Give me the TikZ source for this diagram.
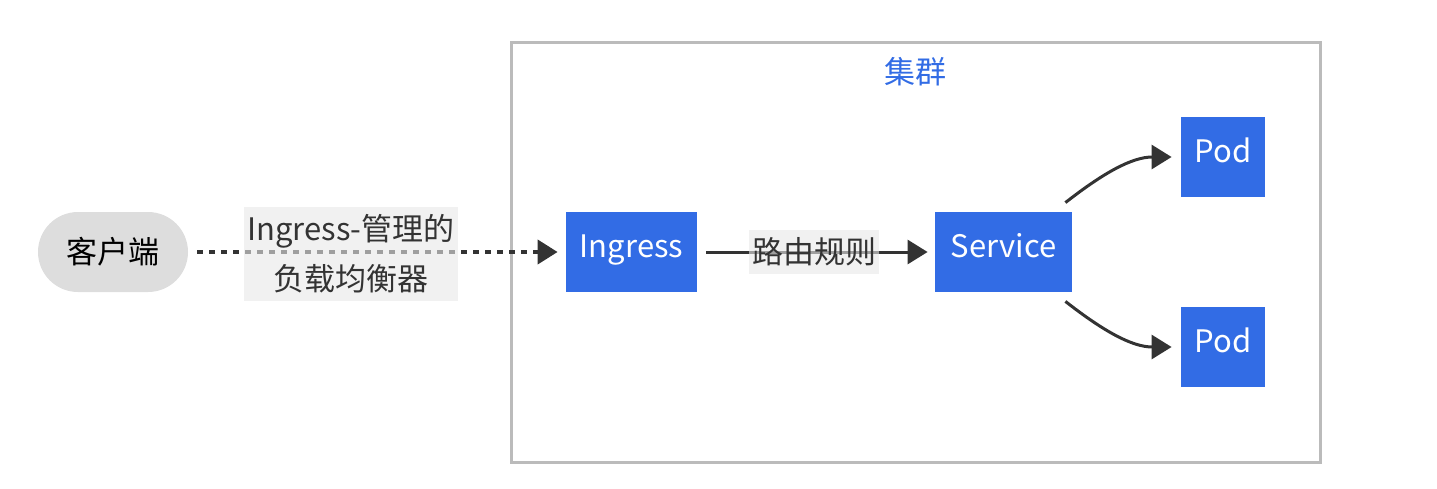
\documentclass[tikz,border=0pt]{standalone}
\usepackage{fontspec}
\setmainfont{Noto Sans CJK SC}
\usetikzlibrary{arrows.meta}
\definecolor{kblue}{HTML}{326CE5}
\definecolor{edgegray}{HTML}{333333}
\definecolor{clientgray}{HTML}{DDDDDD}
\definecolor{framegray}{HTML}{BBBBBB}
\definecolor{labelgray}{HTML}{E8E8E8}
\begin{document}
\begin{tikzpicture}[x=0.5pt, y=-0.5pt,
        every node/.style={font=\fontsize{15.5}{25}\selectfont},
        kbox/.style={fill=kblue, text=white, minimum height=40pt, inner sep=0pt,
            text height=10pt, text depth=4.5pt},
        flow/.style={edgegray, line width=1.5pt, -{Triangle[length=10pt, width=12pt]}},
        edgelabel/.style={fill=labelgray, fill opacity=0.6, text opacity=1,
            text=edgegray, inner sep=1.5pt, align=center}]
        \useasboundingbox (0,0) rectangle (1437,488);

        % Cluster frame
        \draw[framegray, line width=1.5pt] (511,42) rectangle (1320,462);
        \node[text=kblue] (title) at (915,72) {集群};

        % Client
        \node[fill=clientgray, rounded corners=20pt, minimum width=75pt,
            minimum height=40pt] (client) at (113,252) {客户端};

        % Ingress, Service, Pods
        \node[kbox, minimum width=65.5pt] (ingress) at (631.5,252) {Ingress};
        \node[kbox, minimum width=68.5pt] (svc) at (1003.5,252) {Service};
        \node[kbox, minimum width=42pt] (podA) at (1223,157) {Pod};
        \node[kbox, minimum width=42pt] (podB) at (1223,347) {Pod};

        % Client to Ingress (dotted)
        \draw[flow, line width=2pt, dash pattern=on 3pt off 3pt,
            shorten <=4.5pt, shorten >=4pt]
            (client) -- (ingress)
            node[edgelabel, midway, xshift=-13pt, yshift=-1pt, inner ysep=4pt] (lb)
            {Ingress-管理的\\负载均衡器};
        \draw[flow, shorten <=4.5pt, shorten >=3.5pt] (ingress) -- (svc)
            node[edgelabel, midway, xshift=-1pt, inner ysep=4pt] (rules) {路由规则};

        % Service to Pods
        \draw[flow, shorten >=4.5pt] ([shift={(-7,-9)}]svc.north east)
            to[out=38, in=180] (podA.west);
        \draw[flow, shorten >=4.5pt] ([shift={(-7,9)}]svc.south east)
            to[out=-38, in=180] (podB.west);
    \end{tikzpicture}
\end{document}
